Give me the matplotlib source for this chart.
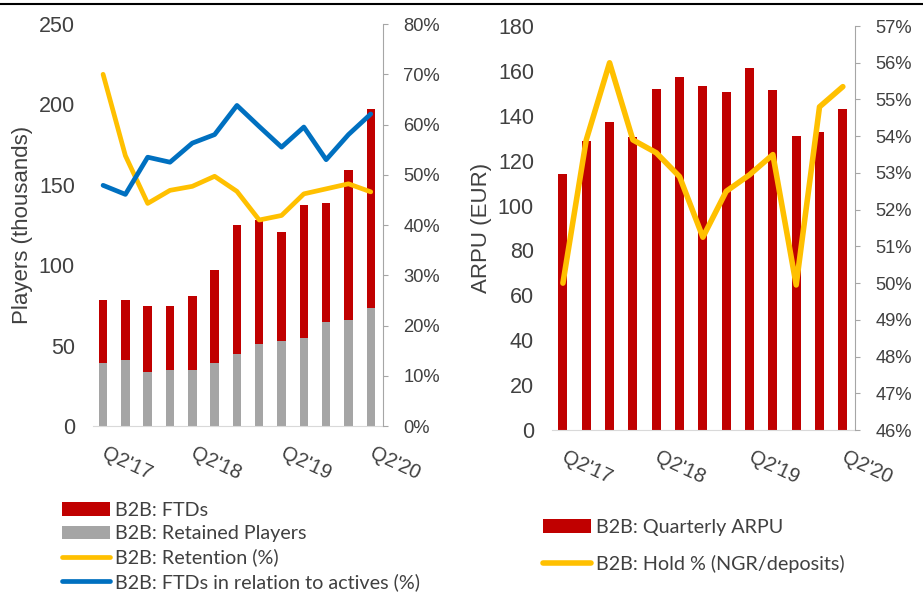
import matplotlib
matplotlib.use('Agg')
import numpy as np
import matplotlib.pyplot as plt
from matplotlib.ticker import PercentFormatter
from matplotlib.lines import Line2D
from matplotlib.transforms import ScaledTranslation

plt.rcParams['font.family'] = 'Liberation Sans'

# quarterly data, Q2'17 .. Q2'20
quarters = ["Q2'17", "Q3'17", "Q4'17", "Q1'18", "Q2'18", "Q3'18", "Q4'18",
            "Q1'19", "Q2'19", "Q3'19", "Q4'19", "Q1'20", "Q2'20"]
tick_idx = [0, 4, 8, 12]

# left chart (thousands of players, %)
retained = [39.4, 41.0, 33.8, 34.8, 34.8, 39.4, 44.7, 51.1, 52.8, 54.6, 64.5, 66.2, 73.6]
ftds = [38.7, 37.1, 40.6, 39.6, 45.8, 57.5, 80.5, 77.3, 67.6, 82.9, 73.9, 93.2, 123.5]
retention = [70.0, 53.8, 44.3, 46.9, 47.7, 49.7, 46.7, 41.0, 41.9, 46.2, 47.2, 48.2, 46.6]
ftd_share = [47.9, 46.1, 53.5, 52.5, 56.3, 58.0, 63.8, 59.6, 55.5, 59.5, 53.0, 58.0, 62.1]

# right chart (EUR, %)
arpu = [114.0, 128.8, 137.4, 130.7, 152.1, 157.1, 153.5, 150.8, 161.2, 151.4, 130.9, 132.8, 143.1]
hold = [50.0, 53.9, 56.0, 53.9, 53.55, 52.9, 51.25, 52.5, 52.95, 53.5, 49.95, 54.8, 55.35]

RED = '#C00000'
GRAY = '#A5A5A5'
YELLOW = '#FFC000'
BLUE = '#0070C0'
TXT = '#404040'
SPINE = '#A6A6A6'

fig = plt.figure(figsize=(9.23, 5.92), dpi=100)
x = np.arange(len(quarters))


def style_axes(ax, axr, xlim):
    ax.set_xlim(*xlim)
    for s in ['left', 'top', 'right']:
        ax.spines[s].set_visible(False)
    ax.spines['bottom'].set_color('#D9D9D9')
    for s in ['left', 'top', 'bottom']:
        axr.spines[s].set_visible(False)
    axr.spines['right'].set_color(SPINE)
    ax.tick_params(axis='y', length=0, pad=13, labelsize=15.5, labelcolor=TXT)
    axr.tick_params(axis='y', length=3.6, width=0.8, color=SPINE, pad=11,
                    labelsize=13.2, labelcolor=TXT)
    ax.set_xticks(x[tick_idx])
    ax.set_xticklabels([quarters[i] for i in tick_idx])
    ax.tick_params(axis='x', length=0, pad=13, labelsize=14.5, labelcolor=TXT)
    off = ScaledTranslation(4 / 100, 0, fig.dpi_scale_trans)
    for lbl in ax.get_xticklabels():
        lbl.set_rotation(-25)
        lbl.set_ha('left')
        lbl.set_va('top')
        lbl.set_rotation_mode('anchor')
        lbl.set_transform(lbl.get_transform() + off)


# ---- left chart: players ----
ax1 = fig.add_axes([0.1008, 0.2804, 0.3142, 0.679])
ax1b = ax1.twinx()
b_ret = ax1.bar(x, retained, width=0.38, color=GRAY, label='B2B: Retained Players')
b_ftd = ax1.bar(x, ftds, bottom=retained, width=0.38, color=RED, label='B2B: FTDs')
l_ret, = ax1b.plot(x, retention, color=YELLOW, lw=3.4, solid_capstyle='round',
                   label='B2B: Retention (%)')
l_ftd, = ax1b.plot(x, ftd_share, color=BLUE, lw=3.4, solid_capstyle='round',
                   label='B2B: FTDs in relation to actives (%)')
ax1.set_ylim(0, 250)
ax1.set_yticks(range(0, 251, 50))
ax1b.set_ylim(0, 80)
ax1b.set_yticks(range(0, 81, 10))
ax1b.yaxis.set_major_formatter(PercentFormatter(100, decimals=0))
style_axes(ax1, ax1b, (-0.45, 12.55))
ax1.set_ylabel('Players (thousands)', fontsize=16, color=TXT)
ax1.yaxis.set_label_coords(-0.207, 0.5)

# ---- right chart: ARPU ----
ax2 = fig.add_axes([0.598, 0.2736, 0.3283, 0.6824])
ax2b = ax2.twinx()
b_arpu = ax2.bar(x, arpu, width=0.39, color=RED, label='B2B: Quarterly ARPU')
l_hold, = ax2b.plot(x, hold, color=YELLOW, lw=4, solid_capstyle='round',
                    label='B2B: Hold % (NGR/deposits)')
ax2.set_ylim(0, 180)
ax2.set_yticks(range(0, 181, 20))
ax2b.set_ylim(46, 57)
ax2b.set_yticks(range(46, 58))
ax2b.yaxis.set_major_formatter(PercentFormatter(100, decimals=0))
style_axes(ax2, ax2b, (-0.47, 12.52))
ax2.set_ylabel('ARPU (EUR)', fontsize=16, color=TXT)
ax2.yaxis.set_label_coords(-0.198, 0.5)

# legends
leg_font = {'family': 'Lato', 'size': 14.2}
leg1 = fig.legend([b_ftd, b_ret, l_ret, l_ftd],
                  [h.get_label() for h in [b_ftd, b_ret, l_ret, l_ftd]],
                  loc='upper left', bbox_to_anchor=(0.067, 0.152), frameon=False,
                  prop=leg_font, handlelength=2.44, handletextpad=0.25,
                  labelspacing=0.32, borderpad=0, borderaxespad=0)
leg2 = fig.legend([b_arpu, l_hold], [b_arpu.get_label(), l_hold.get_label()],
                  loc='upper left', bbox_to_anchor=(0.588, 0.123), frameon=False,
                  prop=leg_font, handlelength=2.44, handletextpad=0.25,
                  labelspacing=0.95, borderpad=0, borderaxespad=0)
for leg in (leg1, leg2):
    for t in leg.get_texts():
        t.set_color(TXT)

# thin rule at the very top
fig.add_artist(Line2D([0, 1], [0.9935, 0.9935], color='black', lw=1.5,
                      transform=fig.transFigure))

fig.savefig('out.png', dpi=100)
